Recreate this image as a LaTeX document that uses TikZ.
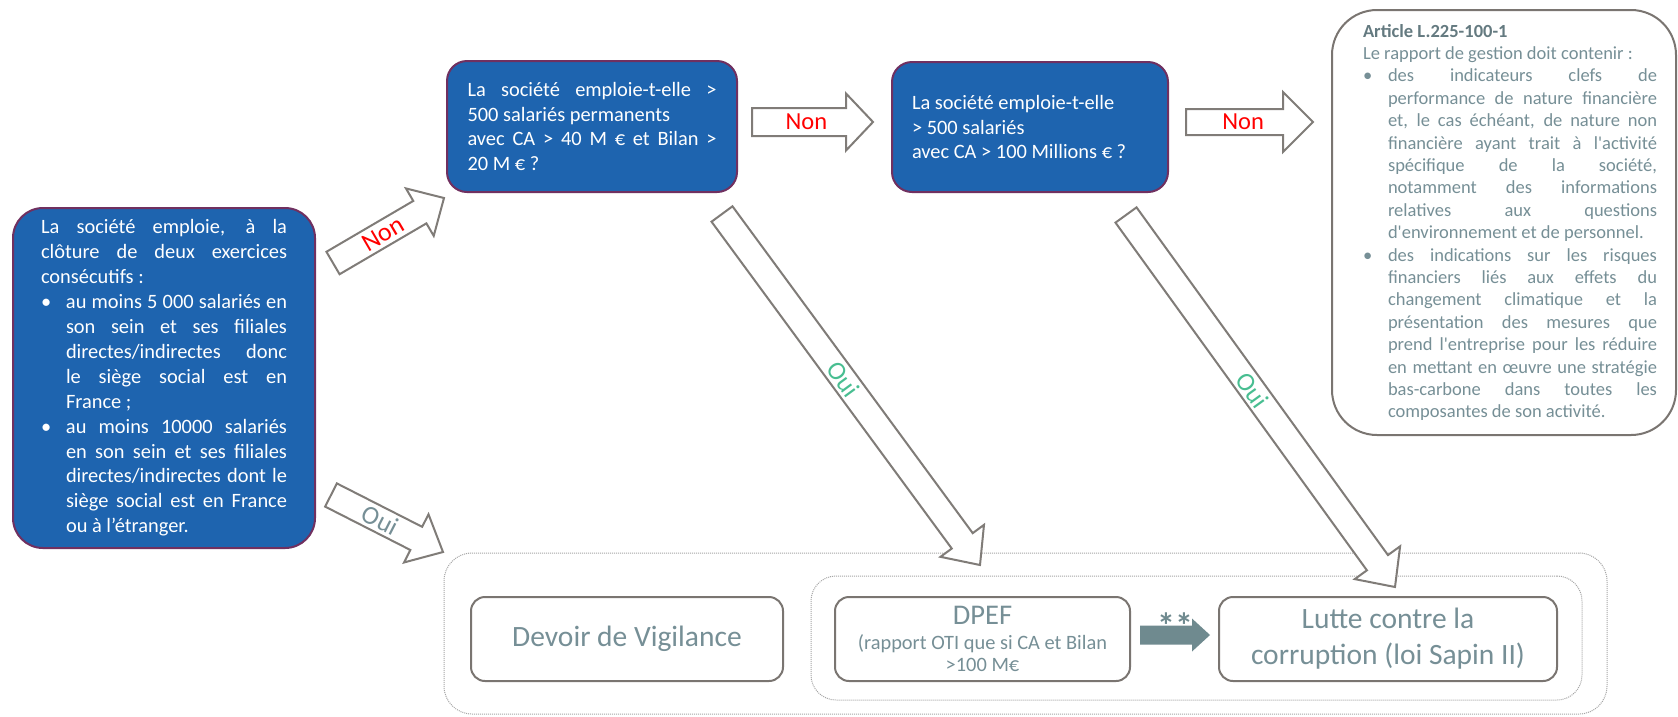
\documentclass[tikz,border=0pt]{standalone}
\usepackage{fontspec}
\setmainfont{Carlito}
\newfontfamily\artfont{Carlito}
\usetikzlibrary{calc}

\definecolor{bluebox}{RGB}{30,100,175}
\definecolor{blueborder}{RGB}{112,48,96}
\definecolor{greyline}{RGB}{122,117,113}
\definecolor{slate}{RGB}{118,143,150}
\definecolor{slatedark}{RGB}{100,122,128}
\definecolor{mint}{RGB}{72,190,145}
\definecolor{arrowgrey}{RGB}{128,124,120}
\definecolor{dotgrey}{RGB}{165,165,165}
\definecolor{starfill}{RGB}{111,138,143}

\newcommand\ns{\spaceskip=0pt\relax\xspaceskip=0pt\relax}
\newcommand\jl[2]{\makebox[#1][s]{#2}}
\newcommand\bul{\makebox[25pt][l]{\textbullet}}
\newcommand\bindent{\hspace*{25pt}}

% block arrow: [style]{tail}{tip}{shaft half}{head half}{head length}
\newcommand\blockarrow[6][blockar]{%
  \coordinate (#2h) at ($(#3)!#6!(#2)$);
  \path[#1] ($(#2)!#4!90:(#3)$) -- ($(#2h)!#4!90:(#3)$) -- ($(#2h)!#5!90:(#3)$) -- (#3)
    -- ($(#2h)!#5!-90:(#3)$) -- ($(#2h)!#4!-90:(#3)$) -- ($(#2)!#4!-90:(#3)$) -- cycle;}

\begin{document}
\begin{tikzpicture}[x=1pt,y=-1pt,
  qbox/.style={draw=blueborder, line width=2pt, fill=bluebox, text=white, inner sep=0pt,
    align=left, font=\fontsize{20.4}{24.9}\selectfont},
  gbox/.style={draw=greyline, line width=2pt, rounded corners=14pt, text=slate, inner sep=0pt,
    align=center},
  cont/.style={draw=dotgrey, line width=1pt, dash pattern=on 1pt off 1pt, inner sep=0pt},
  blockar/.style={draw=arrowgrey, line width=2pt, fill=white, line join=miter},
  starar/.style={fill=starfill},
  lblnon/.style={text=red, inner sep=0pt, sloped},
  lbloui/.style={text=mint, inner sep=0pt, sloped, font=\fontsize{26}{26}\selectfont},
]
\fill[white] (0,0) rectangle (1678,716);
\useasboundingbox (0,0) rectangle (1678,716);

% containers
\node[cont, rounded corners=28pt, minimum width=1163pt, minimum height=161pt] (outer) at (1025.5,633.5) {};
\node[cont, rounded corners=25pt, minimum width=771pt, minimum height=124pt] (inner) at (1196.5,638) {};

% question boxes
\node[qbox, rounded corners=30pt, text width=246pt, minimum width=302pt, minimum height=340pt] (q1) at (164,378) {\ns
\jl{246pt}{La société emploie, à la}\\
\jl{246pt}{clôture de deux exercices}\\
consécutifs :\\
\bul\jl{221pt}{au moins 5 000 salariés en}\\
\bindent\jl{221pt}{son sein et ses filiales}\\
\bindent\jl{221pt}{directes/indirectes donc}\\
\bindent\jl{221pt}{le siège social est en}\\
\bindent France ;\\
\bul\jl{221pt}{au moins 10000 salariés}\\
\bindent\jl{221pt}{en son sein et ses filiales}\\
\bindent\jl{221pt}{directes/indirectes dont le}\\
\bindent\jl{221pt}{siège social est en France}\\
\bindent ou à l’étranger.};

\node[qbox, rounded corners=20pt, text width=249pt, minimum width=290pt, minimum height=131pt] (q2) at (592,126.5) {\ns
\jl{249pt}{La société emploie-t-elle >}\\
500 salariés permanents\\
\jl{249pt}{avec CA > 40 M € et Bilan >}\\
20 M € ?};

\node[qbox, rounded corners=20pt, text width=236pt, minimum width=276pt, minimum height=130pt] (q3) at (1030,127) {\ns
La société emploie-t-elle\\
> 500 salariés\\
avec CA > 100 Millions € ?};

% article box
\node[draw=greyline, line width=2pt, rounded corners=45pt, minimum width=344pt, minimum height=425pt] (art) at (1504,222.5) {};
\node[text=slate, inner sep=0pt, text width=294pt, align=left, font=\artfont\fontsize{18.5}{22.4}\selectfont] (artt) at (1510,222.5) {\ns
{\color{slatedark}\bfseries Article L.225-100-1}\\
Le rapport de gestion doit contenir :\\
\bul\jl{269pt}{des indicateurs clefs de}\\
\bindent\jl{269pt}{performance de nature financière}\\
\bindent\jl{269pt}{et, le cas échéant, de nature non}\\
\bindent\jl{269pt}{financière ayant trait à l'activité}\\
\bindent\jl{269pt}{spécifique de la société,}\\
\bindent\jl{269pt}{notamment des informations}\\
\bindent\jl{269pt}{relatives aux questions}\\
\bindent d'environnement et de personnel.\\
\bul\jl{269pt}{des indications sur les risques}\\
\bindent\jl{269pt}{financiers liés aux effets du}\\
\bindent\jl{269pt}{changement climatique et la}\\
\bindent\jl{269pt}{présentation des mesures que}\\
\bindent\jl{269pt}{prend l'entreprise pour les réduire}\\
\bindent\jl{269pt}{en mettant en œuvre une stratégie}\\
\bindent\jl{269pt}{bas-carbone dans toutes les}\\
\bindent composantes de son activité.};

% bottom boxes
\node[gbox, minimum width=312pt, minimum height=84pt, font=\fontsize{29.5}{36}\selectfont] (dv) at (627,639) {\ns Devoir de Vigilance};
\node[gbox, minimum width=295pt, minimum height=84pt, font=\fontsize{20.4}{22}\selectfont] (dpef) at (982.5,639) {\ns
{\fontsize{28.5}{29}\selectfont DPEF}\\[3pt]
(rapport OTI que si CA et Bilan\\
>100 M€};
\node[gbox, minimum width=338pt, minimum height=84pt, font=\fontsize{29.5}{36}\selectfont] (lutte) at (1388,639) {\ns
Lutte contre la\\corruption (loi Sapin II)};

% arrow end points
\coordinate (a1t) at (333,263);  \coordinate (a1h) at (444,198);
\coordinate (a2t) at (331,495);  \coordinate (a2h) at (443,552);
\coordinate (a3t) at (752,122);  \coordinate (a3h) at (873,122);
\coordinate (a4t) at (1186,122); \coordinate (a4h) at (1313,122);
\coordinate (a5t) at (722,214);  \coordinate (a5h) at (980,565);
\coordinate (a6t) at (1126,215); \coordinate (a6h) at (1395,587);
\coordinate (a7t) at (1140,635); \coordinate (a7h) at (1210,635);

\blockarrow{a1t}{a1h}{13pt}{27.5pt}{28pt}
\blockarrow{a2t}{a2h}{13pt}{27pt}{30pt}
\blockarrow{a3t}{a3h}{14pt}{28.5pt}{27pt}
\blockarrow{a4t}{a4h}{13pt}{30pt}{30pt}
\blockarrow{a5t}{a5h}{13pt}{27pt}{30pt}
\blockarrow{a6t}{a6h}{13pt}{28pt}{30pt}
\blockarrow[starar]{a7t}{a7h}{9.5pt}{16.5pt}{18pt}

% labels
\path (a1t) -- (a1h) node[lblnon, pos=0.45, font=\fontsize{26}{26}\selectfont] (l1) {Non};
\path (a2t) -- (a2h) node[lbloui, pos=0.44, text=slate] (l2) {Oui};
\path (a3t) -- (a3h) node[lblnon, pos=0.45, font=\fontsize{24.5}{24.5}\selectfont] (l3) {Non};
\path (a4t) -- (a4h) node[lblnon, pos=0.45, font=\fontsize{24.5}{24.5}\selectfont] (l4) {Non};
\path (a5t) -- (a5h) node[lbloui, pos=0.47] (l5) {Oui};
\path (a6t) -- (a6h) node[lbloui, pos=0.47] (l6) {Oui};
\node[text=starfill, inner sep=0pt, font=\bfseries\fontsize{36}{36}\selectfont] (stars) at (1175,626) {**};
\end{tikzpicture}
\end{document}
